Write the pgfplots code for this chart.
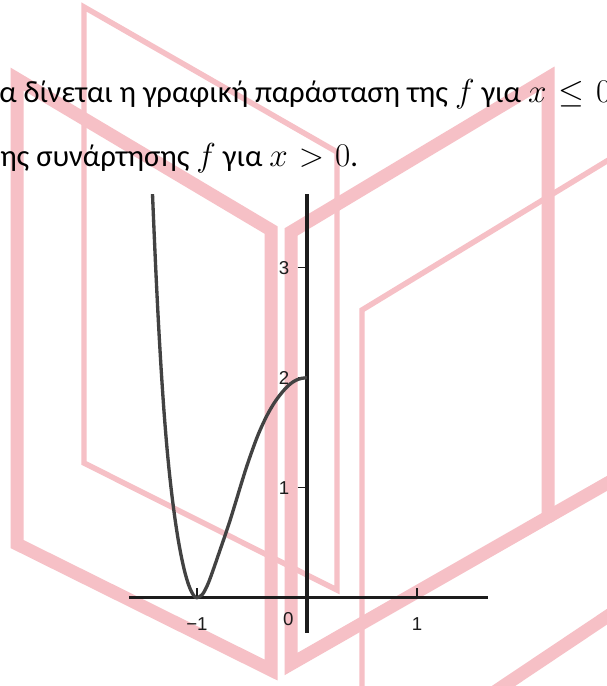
\documentclass[border=0pt]{standalone}
\usepackage{fontspec}
\usepackage{pgfplots}
\pgfplotsset{compat=1.18}
\setmainfont{Carlito}
\newfontfamily\ggbfont{Liberation Sans}
\definecolor{wm}{RGB}{246,192,198}
\definecolor{curvegray}{RGB}{66,66,66}
\definecolor{axisblack}{RGB}{28,28,28}
\newcommand\txt{\fontsize{23}{27}\selectfont}
\newcommand\tck{\ggbfont\fontsize{14}{16}\selectfont}

\begin{document}
\begin{tikzpicture}[x=0.75pt,y=-0.75pt]
\useasboundingbox (0,0) rectangle (607,686);
\begin{scope}
\clip (0,0) rectangle (607,686);
\fill[white] (0,0) rectangle (607,686);
% background logo strokes
\begin{scope}[draw=wm, line join=miter]
  \draw[line width=4.1pt] (84,7) -- (337,152) -- (337,590) -- (84,463) -- cycle;
  \draw[line width=4.1pt] (362,700) -- (362,310) -- (620,153);
  \draw[line width=9.75pt] (17,79) -- (271,230) -- (271,670) -- (17,544) -- cycle;
  \draw[line width=9.75pt] (291,232) -- (548,78) -- (548,517) -- (291,664) -- cycle;
  \draw[line width=9.75pt] (548,517) -- (620,476);
  \draw[line width=9.75pt] (490,695) -- (620,608);
\end{scope}
% running text
\node[anchor=base west, inner sep=0pt, font=\txt] at (-1,102)
  {α δίνεται η γραφική παράσταση της $f$ για $x \mskip1.5mu\leq\mskip1.5mu 0$};
\node[anchor=base west, inner sep=0pt, font=\txt] at (0,166)
  {ης συνάρτησης $f$ για $x \mskip1mu>\mskip1mu 0$.};
% graph of f for x <= 0
\coordinate (SW) at (129.3,632.7);
\begin{axis}[
  at={(SW)}, anchor=south west,
  x=82.5pt, y=82.5pt,
  axis lines=middle,
  axis line style={-, line width=2.4pt, color=axisblack},
  xmin=-1.615, xmax=1.645, ymin=-0.318, ymax=3.67,
  xtick={-1,1}, xticklabels={−1,1},
  ytick={1,2,3}, yticklabels={1,2,3},
  ticklabel style={font=\tck, text=axisblack},
  xticklabel style={anchor=center, yshift=-16pt, inner sep=0pt},
  yticklabel style={anchor=east, xshift=-9.5pt, inner sep=0pt},
  tick align=center,
  major tick length=7pt,
  tick style={axisblack, line width=0.9pt},
  xtick style={yshift=3.5pt},
  ytick style={xshift=-3.5pt},
]
\addplot[smooth, line width=2.5pt, color=curvegray] coordinates {
  (-1.425,4.20) (-1.400,3.57) (-1.375,3.00) (-1.350,2.50) (-1.325,2.07)
  (-1.300,1.70) (-1.275,1.39) (-1.250,1.13) (-1.225,0.91) (-1.200,0.72)
  (-1.175,0.555) (-1.150,0.415) (-1.125,0.295) (-1.100,0.195) (-1.075,0.115)
  (-1.050,0.055) (-1.025,0.015) (-1.000,0.000)
  (-0.950,0.030) (-0.900,0.125) (-0.850,0.260) (-0.800,0.405) (-0.750,0.550)
  (-0.700,0.700) (-0.650,0.862) (-0.600,1.027) (-0.550,1.187) (-0.500,1.332)
  (-0.450,1.467) (-0.400,1.582) (-0.350,1.682) (-0.300,1.767) (-0.250,1.837)
  (-0.200,1.897) (-0.150,1.945) (-0.100,1.977) (-0.050,1.994) (0.000,2.000)
};
\node[font=\tck, text=axisblack, inner sep=0pt]
  at (axis cs:-0.17,-0.194) {0};
\end{axis}
\end{scope}
\end{tikzpicture}
\end{document}
